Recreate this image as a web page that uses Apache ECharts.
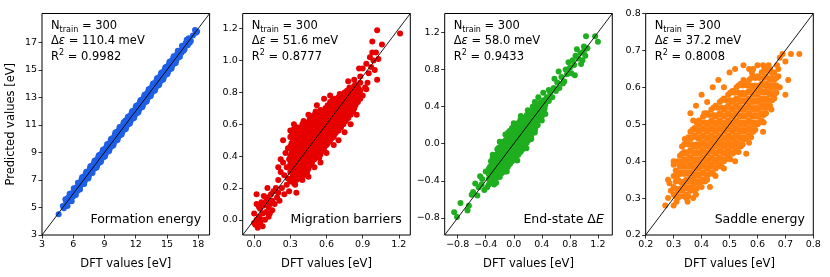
<!DOCTYPE html>
<html><head><meta charset="utf-8">
<script src="https://cdn.jsdelivr.net/npm/echarts@6/dist/echarts.min.js"></script>
<style>html,body{margin:0;padding:0;background:#fff}#c{width:830px;height:277px}</style>
</head><body><div id="c"></div>
<script>
// ---------- data ----------
const panelTitles = ['Formation energy', 'Migration barriers', 'End-state Δ{i|E}', 'Saddle energy'];
const nTrain = [300, 300, 300, 300];
const errMeV = ['110.4', '51.6', '58.0', '37.2'];
const r2Values = ['0.9982', '0.8777', '0.9433', '0.8008'];
const axisLimits = [[3, 19.1], [-0.095, 1.295], [-0.985, 1.405], [0.2, 0.8]];
const xTicks = [[3, 6, 9, 12, 15, 18], [0, 0.3, 0.6, 0.9, 1.2], [-0.8, -0.4, 0, 0.4, 0.8, 1.2], [0.2, 0.3, 0.4, 0.5, 0.6, 0.7, 0.8]];
const yTicks = [[3, 5, 7, 9, 11, 13, 15, 17], [0, 0.2, 0.4, 0.6, 0.8, 1.0, 1.2], [-0.8, -0.4, 0, 0.4, 0.8, 1.2], [0.2, 0.3, 0.4, 0.5, 0.6, 0.7, 0.8]];
const xLabel = 'DFT values [eV]';
const yLabel = 'Predicted values [eV]';

// Formation energy: [DFT, predicted]
const formationPoints = [[4.6,4.5],[5.0,5.1],[5.1,4.95],[5.3,5.45],[5.4,5.2],[5.5,5.7],[5.6,5.45],[5.7,5.85],[5.8,5.6],[5.9,6.05],[6.0,5.8],[6.1,6.3],[6.2,6.0],[6.3,6.45],[6.4,6.2],[6.5,6.75],[6.6,6.45],[6.7,6.6],[6.8,7.05],[6.9,6.75],[7.0,7.25],[7.1,6.9],[7.2,7.45],[7.3,7.1],[7.4,7.6],[7.5,7.25],[7.6,7.85],[7.7,7.5],[7.8,8.05],[7.9,7.75],[8.0,8.25],[8.1,7.85],[8.2,8.45],[8.3,8.05],[8.4,8.65],[8.5,8.25],[8.6,8.85],[8.7,8.45],[8.8,9.05],[8.9,8.65],[9.0,9.25],[9.1,8.85],[9.2,9.45],[9.3,9.05],[9.4,9.65],[9.5,9.25],[9.6,9.9],[9.7,9.45],[9.8,10.05],[9.9,9.65],[10.0,10.3],[10.1,9.85],[10.2,10.5],[10.3,10.05],[10.4,10.65],[10.5,10.25],[10.6,10.85],[10.7,10.45],[10.8,11.05],[10.9,10.65],[11.0,11.3],[11.1,10.85],[11.2,11.45],[11.3,11.05],[11.4,11.65],[11.5,11.25],[11.6,11.85],[11.7,11.45],[11.8,12.05],[11.9,11.65],[12.0,12.3],[12.1,11.85],[12.2,12.45],[12.3,12.05],[12.4,12.65],[12.5,12.25],[12.6,12.85],[12.7,12.45],[12.8,13.05],[12.9,12.65],[13.0,13.25],[13.1,12.85],[13.2,13.45],[13.3,13.05],[13.4,13.65],[13.5,13.25],[13.6,13.85],[13.7,13.45],[13.8,14.05],[13.9,13.65],[14.0,14.25],[14.1,13.85],[14.2,14.45],[14.3,14.05],[14.4,14.65],[14.5,14.25],[14.6,14.85],[14.7,14.45],[14.8,15.05],[14.9,14.65],[15.0,15.25],[15.1,14.85],[15.2,15.45],[15.3,15.05],[15.4,15.65],[15.5,15.3],[15.6,15.85],[15.7,15.45],[15.8,16.0],[15.9,15.7],[16.0,16.2],[16.1,15.9],[16.2,16.4],[16.4,16.25],[16.5,16.7],[16.6,16.4],[16.8,16.95],[17.0,16.8],[17.1,17.3],[17.3,17.1],[17.5,17.5],[17.7,17.9],[17.9,17.8],[17.8,17.7]];
const formationSpread = [[5.25,5.6],[5.45,5.1],[5.65,6.0],[5.85,5.45],[6.05,6.4],[6.25,5.9],[6.45,6.8],[6.65,6.3],[6.85,7.2],[7.05,6.7],[7.25,7.6],[7.45,7.1],[7.65,8.0],[7.85,7.5],[8.05,8.4],[8.25,7.9],[8.45,8.8],[8.65,8.3],[8.85,9.2],[9.05,8.7],[9.25,9.6],[9.45,9.1],[9.65,10.0],[9.85,9.5],[10.05,10.45],[10.25,9.9],[10.45,10.85],[10.65,10.3],[10.85,11.2],[11.05,10.7],[11.25,11.6],[11.45,11.1],[11.65,12.0],[11.85,11.5],[12.05,12.4],[12.25,11.9],[12.45,12.8],[12.65,12.3],[12.85,13.2],[13.05,12.7],[13.25,13.6],[13.45,13.1],[13.65,14.0],[13.85,13.5],[14.05,14.4],[14.25,13.9],[14.45,14.8],[14.65,14.3],[14.85,15.2],[15.05,14.7],[15.25,15.6],[15.45,15.1],[15.65,16.0],[15.85,15.5],[16.05,16.4],[16.25,15.95],[16.45,16.75],[16.7,16.5],[16.9,17.2],[17.2,17.0]];

// Migration barriers: dense core as [DFT, [predicted...]] and scattered points
const migrationCore = [
 [0.30,[0.24,0.30,0.35,0.40,0.46,0.52]],[0.32,[0.27,0.33,0.38,0.43,0.49,0.55]],[0.34,[0.22,0.29,0.34,0.40,0.45,0.50]],
 [0.36,[0.28,0.33,0.37,0.42,0.47,0.53,0.58]],[0.38,[0.26,0.31,0.36,0.41,0.46,0.51,0.56]],[0.40,[0.30,0.35,0.40,0.44,0.49,0.54,0.60]],
 [0.42,[0.32,0.37,0.42,0.47,0.52,0.57]],[0.44,[0.30,0.35,0.40,0.45,0.50,0.55,0.61]],[0.46,[0.34,0.39,0.43,0.48,0.53,0.58,0.63]],
 [0.48,[0.36,0.41,0.46,0.50,0.55,0.60]],[0.50,[0.38,0.43,0.48,0.52,0.57,0.62,0.66]],[0.52,[0.40,0.45,0.49,0.54,0.59,0.64]],
 [0.54,[0.39,0.44,0.48,0.53,0.57,0.62,0.67]],[0.56,[0.43,0.47,0.52,0.56,0.61,0.66]],[0.58,[0.45,0.50,0.54,0.58,0.63,0.68]],
 [0.60,[0.47,0.51,0.55,0.60,0.64,0.70]],[0.62,[0.49,0.53,0.57,0.62,0.66,0.71]],[0.64,[0.51,0.55,0.59,0.63,0.67,0.73]],
 [0.66,[0.52,0.57,0.61,0.65,0.69,0.74]],[0.68,[0.55,0.59,0.63,0.67,0.72]],[0.70,[0.56,0.60,0.64,0.68,0.73,0.77]],
 [0.72,[0.58,0.62,0.66,0.70,0.75]],[0.74,[0.60,0.64,0.68,0.72,0.77]],[0.76,[0.62,0.66,0.70,0.74,0.79]],
 [0.78,[0.64,0.69,0.73,0.77,0.81]],[0.80,[0.66,0.71,0.75,0.80]],[0.82,[0.68,0.73,0.77,0.82]],
 [0.84,[0.72,0.76,0.80,0.85]],[0.86,[0.74,0.79,0.83]],[0.88,[0.76,0.81,0.86]]];
const migrationCore2 = [
 [0.31,[0.25,0.32,0.37,0.42,0.48,0.53]],[0.33,[0.23,0.30,0.36,0.41,0.47,0.52,0.57]],[0.35,[0.25,0.31,0.36,0.40,0.44,0.49,0.55]],
 [0.37,[0.27,0.32,0.39,0.44,0.49,0.55]],[0.39,[0.29,0.34,0.38,0.43,0.48,0.53,0.58]],[0.41,[0.28,0.33,0.38,0.43,0.47,0.51,0.56,0.62]],
 [0.43,[0.33,0.39,0.44,0.49,0.54,0.59]],[0.45,[0.32,0.37,0.42,0.47,0.52,0.56,0.60]],[0.47,[0.35,0.40,0.45,0.50,0.55,0.61,0.65]],
 [0.49,[0.38,0.43,0.48,0.53,0.58,0.63]],[0.51,[0.40,0.45,0.50,0.55,0.60,0.64,0.68]],[0.53,[0.42,0.47,0.51,0.56,0.61,0.66]],
 [0.55,[0.41,0.46,0.50,0.55,0.59,0.64,0.69]],[0.57,[0.44,0.49,0.54,0.58,0.63,0.68]],[0.59,[0.47,0.52,0.56,0.61,0.65,0.70]],
 [0.61,[0.48,0.53,0.58,0.62,0.67,0.72]],[0.63,[0.50,0.55,0.60,0.64,0.69,0.74]],[0.65,[0.53,0.57,0.61,0.65,0.70,0.75]],
 [0.67,[0.54,0.59,0.63,0.67,0.71,0.76]],[0.69,[0.57,0.61,0.65,0.70,0.74]],[0.71,[0.58,0.62,0.66,0.71,0.75,0.79]],
 [0.73,[0.60,0.64,0.68,0.73,0.77]],[0.75,[0.62,0.66,0.70,0.75,0.80]],[0.77,[0.64,0.68,0.72,0.76,0.81]],
 [0.79,[0.66,0.71,0.75,0.79,0.83]],[0.81,[0.69,0.73,0.78,0.82]],[0.83,[0.70,0.75,0.79,0.84]],
 [0.85,[0.74,0.78,0.82]],[0.87,[0.77,0.82]]];
const migrationScatter = [[0.0,0.04],[0.01,-0.03],[0.02,0.1],[0.02,0.16],[0.03,-0.05],[0.04,0.02],[0.05,0.07],[0.05,-0.02],[0.06,0.11],[0.07,0.04],[0.07,-0.04],[0.08,0.09],[0.09,0.0],[0.1,0.12],[0.1,0.05],[0.11,0.14],[0.12,0.08],[0.12,0.02],[0.13,0.1],[0.14,0.16],[0.15,0.06],[0.15,0.12],[0.16,0.18],[0.17,0.1],[0.18,0.2],[0.19,0.14],[0.02,0.0],[0.0,-0.02],[0.04,0.08],[0.08,0.15],[0.13,0.04],[0.06,0.0],[0.11,0.2],[0.2,0.17],
 [0.2,0.25],[0.21,0.12],[0.22,0.3],[0.23,0.2],[0.24,0.36],[0.25,0.16],[0.25,0.28],[0.26,0.42],[0.27,0.22],[0.27,0.33],[0.28,0.26],[0.28,0.45],[0.29,0.18],[0.29,0.38],[0.2,0.33],[0.22,0.38],
 [0.24,0.5],[0.3,0.56],[0.33,0.6],[0.35,0.17],[0.4,0.25],[0.45,0.27],[0.5,0.33],[0.55,0.36],[0.45,0.66],[0.52,0.72],[0.58,0.76],[0.63,0.78],[0.6,0.42],[0.66,0.47],[0.7,0.5],[0.75,0.55],[0.8,0.6],[0.85,0.66],[0.9,0.78],[0.88,0.9],[0.83,0.88],[0.78,0.87],[0.92,0.83],[0.9,0.95],[0.93,0.98],[0.95,0.92],[0.96,1.02],[0.97,0.96],[0.98,1.05],[0.99,1.0],[1.0,0.94],[1.01,1.05],[1.02,0.88],[1.02,1.19],[0.98,1.12],[1.06,1.1],[1.03,1.01],[1.21,1.17],[0.94,0.86],[0.93,0.82],[0.87,0.95]];

// End-state ΔE
const endStateCore = [
 [-0.34,[-0.42,-0.36,-0.30,-0.25]],[-0.31,[-0.38,-0.33,-0.27,-0.21]],[-0.28,[-0.36,-0.30,-0.25,-0.19]],
 [-0.25,[-0.35,-0.29,-0.23,-0.17,-0.12]],[-0.22,[-0.31,-0.26,-0.20,-0.14,-0.09]],[-0.19,[-0.30,-0.24,-0.18,-0.12,-0.07]],
 [-0.16,[-0.27,-0.21,-0.15,-0.10,-0.04]],[-0.13,[-0.25,-0.19,-0.13,-0.07,-0.01]],[-0.10,[-0.22,-0.16,-0.10,-0.04,0.02]],
 [-0.07,[-0.20,-0.14,-0.08,-0.02,0.04,0.09]],[-0.04,[-0.16,-0.10,-0.04,0.02,0.07,0.12]],[-0.01,[-0.14,-0.08,-0.02,0.04,0.10,0.15]],
 [0.02,[-0.11,-0.05,0.01,0.06,0.12,0.18]],[0.05,[-0.08,-0.02,0.04,0.09,0.15]],[0.08,[-0.05,0.01,0.06,0.12,0.18,0.23]],
 [0.11,[-0.02,0.04,0.09,0.15,0.21]],[0.14,[0.00,0.06,0.12,0.18,0.24]],[0.17,[0.04,0.10,0.15,0.21,0.27]],
 [0.20,[0.07,0.13,0.19,0.25,0.30]],[0.23,[0.11,0.16,0.22,0.28]],[0.26,[0.14,0.20,0.26,0.32]],
 [0.29,[0.17,0.23,0.29,0.35]],[0.32,[0.22,0.27,0.33,0.38]],[0.35,[0.26,0.31,0.37,0.42]],
 [0.38,[0.30,0.35,0.41]],[0.41,[0.34,0.40,0.45]],[0.44,[0.38,0.44]]];
const endStateCore2 = [
 [-0.355,[-0.44,-0.38,-0.33,-0.27]],[-0.325,[-0.41,-0.35,-0.30,-0.24,-0.19]],[-0.295,[-0.40,-0.34,-0.28,-0.22,-0.16]],
 [-0.265,[-0.38,-0.32,-0.26,-0.20,-0.14]],[-0.235,[-0.36,-0.30,-0.24,-0.18,-0.12,-0.06]],[-0.205,[-0.34,-0.28,-0.22,-0.16,-0.10,-0.04]],
 [-0.175,[-0.32,-0.26,-0.20,-0.14,-0.08,-0.02]],[-0.145,[-0.30,-0.23,-0.17,-0.11,-0.05,0.01]],[-0.115,[-0.27,-0.21,-0.15,-0.09,-0.03,0.04]],
 [-0.085,[-0.25,-0.19,-0.13,-0.06,0.00,0.06]],[-0.055,[-0.22,-0.16,-0.10,-0.04,0.02,0.08,0.14]],[-0.025,[-0.19,-0.13,-0.07,-0.01,0.05,0.11,0.17]],
 [0.005,[-0.17,-0.11,-0.05,0.01,0.07,0.13,0.19]],[0.035,[-0.14,-0.08,-0.02,0.04,0.10,0.16,0.21]],[0.065,[-0.12,-0.06,0.00,0.06,0.12,0.18]],
 [0.095,[-0.09,-0.03,0.03,0.09,0.15,0.21,0.26]],[0.125,[-0.06,0.00,0.06,0.12,0.18,0.24]],[0.155,[-0.03,0.03,0.09,0.15,0.21,0.27]],
 [0.185,[0.01,0.07,0.13,0.19,0.25,0.31]],[0.215,[0.04,0.10,0.16,0.22,0.28,0.33]],[0.245,[0.08,0.14,0.20,0.26,0.31]],
 [0.275,[0.12,0.18,0.24,0.30,0.36]],[0.305,[0.16,0.22,0.28,0.34,0.40]],[0.335,[0.21,0.27,0.33,0.39]],
 [0.365,[0.26,0.32,0.38,0.44]],[0.395,[0.30,0.36,0.42]],[0.425,[0.35,0.41,0.47]]];
const endStateScatter = [[-0.85,-0.74],[-0.81,-0.79],[-0.76,-0.64],[-0.66,-0.72],[-0.64,-0.67],[-0.6,-0.55],
 [-0.3,-0.15],[-0.2,0.02],[-0.12,0.1],[0.0,0.22],[0.1,0.3],[0.3,0.45],[0.35,0.5],[-0.25,-0.42],[-0.1,-0.3],[0.05,-0.18],[0.18,-0.05],[0.25,0.05],[0.3,0.12],[0.4,0.25],[0.45,0.32],
 [-0.4,-0.3],[-0.38,-0.47],[-0.45,-0.38],[-0.5,-0.47],[-0.55,-0.43],[-0.46,-0.44],[-0.52,-0.56],[-0.58,-0.52],[-0.42,-0.5],[-0.48,-0.35],
 [-0.3,-0.12],[-0.22,-0.05],[-0.15,0.02],[-0.08,0.12],[0.0,0.18],[0.06,0.22],[0.12,0.28],[0.2,0.36],[0.27,0.4],[-0.28,-0.44],[-0.2,-0.36],[-0.12,-0.3],[-0.05,-0.2],[0.02,-0.14],[0.1,-0.08],[0.16,-0.02],[0.22,0.06],[0.28,0.12],[0.34,0.2],[0.4,0.3],
 [0.45,0.42],[0.47,0.5],[0.5,0.46],[0.52,0.55],[0.55,0.5],[0.57,0.6],[0.6,0.57],[0.62,0.66],[0.64,0.78],[0.65,0.6],[0.68,0.72],[0.7,0.65],[0.72,0.67],[0.74,0.8],[0.76,0.75],[0.78,0.88],[0.8,0.82],[0.82,0.76],[0.84,0.9],[0.86,0.85],[0.87,0.74],[0.58,0.7],[0.5,0.58],[0.42,0.55],
 [0.88,0.95],[0.92,0.92],[0.95,0.98],[0.98,0.9],[1.0,1.0],[1.02,0.95],[1.03,1.16],[1.0,1.05],[1.16,1.16],[1.2,1.1],[0.9,1.02],[0.96,0.86],[1.05,1.03]];

// Saddle energy
const saddleCore = [
 [0.300,[0.31,0.33,0.36,0.39]],[0.315,[0.30,0.32,0.35,0.37,0.40]],[0.330,[0.32,0.34,0.37,0.39,0.42,0.44]],
 [0.345,[0.31,0.33,0.35,0.37,0.40,0.42,0.45]],[0.360,[0.33,0.35,0.37,0.39,0.41,0.43,0.46,0.48]],
 [0.375,[0.32,0.34,0.36,0.38,0.40,0.42,0.44,0.47,0.49]],[0.390,[0.34,0.36,0.38,0.40,0.42,0.44,0.46,0.48,0.51]],
 [0.405,[0.35,0.37,0.39,0.41,0.43,0.45,0.47,0.49,0.52]],[0.420,[0.36,0.38,0.40,0.42,0.44,0.46,0.48,0.50,0.53]],
 [0.435,[0.37,0.39,0.41,0.43,0.45,0.47,0.49,0.51,0.54]],[0.450,[0.38,0.40,0.42,0.44,0.46,0.48,0.50,0.52,0.55]],
 [0.465,[0.39,0.41,0.43,0.45,0.47,0.49,0.51,0.53,0.56]],[0.480,[0.40,0.42,0.44,0.46,0.48,0.50,0.52,0.54,0.57]],
 [0.495,[0.41,0.43,0.45,0.47,0.49,0.51,0.53,0.55,0.58]],[0.510,[0.42,0.44,0.46,0.48,0.50,0.52,0.54,0.56,0.59]],
 [0.525,[0.43,0.45,0.47,0.49,0.51,0.53,0.55,0.57,0.60]],[0.540,[0.44,0.46,0.48,0.50,0.52,0.54,0.56,0.58,0.61]],
 [0.555,[0.46,0.48,0.50,0.52,0.54,0.56,0.58,0.61]],[0.570,[0.47,0.49,0.51,0.53,0.55,0.57,0.59,0.62]],
 [0.585,[0.48,0.50,0.52,0.54,0.56,0.58,0.60,0.63]],[0.600,[0.50,0.52,0.54,0.56,0.58,0.60,0.63]],
 [0.615,[0.51,0.53,0.55,0.57,0.59,0.61,0.64]],[0.630,[0.53,0.55,0.57,0.59,0.61,0.63,0.65]],
 [0.645,[0.55,0.58,0.60,0.62,0.65]],[0.660,[0.57,0.60,0.62,0.64]],[0.675,[0.60,0.63,0.65]]];
const saddleCore2 = [
 [0.3075,[0.305,0.325,0.345,0.375]],[0.3225,[0.305,0.325,0.345,0.365,0.385,0.415]],
 [0.3375,[0.305,0.325,0.345,0.365,0.385,0.405,0.425,0.445]],[0.3525,[0.305,0.325,0.345,0.365,0.385,0.405,0.425,0.445,0.465]],
 [0.3675,[0.325,0.345,0.365,0.385,0.405,0.425,0.445,0.465,0.485]],[0.3825,[0.325,0.345,0.365,0.385,0.405,0.425,0.445,0.465,0.485,0.505]],
 [0.3975,[0.345,0.365,0.385,0.405,0.425,0.445,0.465,0.485,0.505]],[0.4125,[0.345,0.365,0.385,0.405,0.425,0.445,0.465,0.485,0.505,0.525]],
 [0.4275,[0.365,0.385,0.405,0.425,0.445,0.465,0.485,0.505,0.525]],[0.4425,[0.365,0.385,0.405,0.425,0.445,0.465,0.485,0.505,0.525,0.545]],
 [0.4575,[0.385,0.405,0.425,0.445,0.465,0.485,0.505,0.525,0.545]],[0.4725,[0.385,0.405,0.425,0.445,0.465,0.485,0.505,0.525,0.545,0.565]],
 [0.4875,[0.405,0.425,0.445,0.465,0.485,0.505,0.525,0.545,0.565]],[0.5025,[0.405,0.425,0.445,0.465,0.485,0.505,0.525,0.545,0.565,0.585]],
 [0.5175,[0.425,0.445,0.465,0.485,0.505,0.525,0.545,0.565,0.585]],[0.5325,[0.425,0.445,0.465,0.485,0.505,0.525,0.545,0.565,0.585,0.605]],
 [0.5475,[0.445,0.465,0.485,0.505,0.525,0.545,0.565,0.585,0.605]],[0.5625,[0.465,0.485,0.505,0.525,0.545,0.565,0.585,0.605]],
 [0.5775,[0.465,0.485,0.505,0.525,0.545,0.565,0.585,0.605,0.625]],[0.5925,[0.485,0.505,0.525,0.545,0.565,0.585,0.605,0.625]],
 [0.6075,[0.505,0.525,0.545,0.565,0.585,0.605,0.625]],[0.6225,[0.505,0.525,0.545,0.565,0.585,0.605,0.625,0.645]],
 [0.6375,[0.545,0.565,0.585,0.605,0.625,0.645]],[0.6525,[0.565,0.585,0.605,0.625]],[0.6675,[0.585,0.605,0.625]]];
const saddleScatter = [[0.27,0.28],[0.28,0.3],[0.28,0.35],[0.285,0.34],[0.3,0.28],[0.31,0.29],[0.29,0.32],[0.345,0.3],[0.35,0.29],[0.33,0.4],[0.32,0.39],[0.36,0.53],[0.37,0.51],[0.38,0.55],[0.4,0.58],[0.42,0.56],[0.44,0.6],[0.46,0.62],[0.48,0.6],[0.5,0.64],[0.52,0.65],[0.55,0.66],[0.57,0.65],[0.58,0.64],[0.6,0.66],[0.62,0.66],[0.64,0.66],[0.65,0.64],[0.67,0.66],[0.68,0.68],[0.69,0.69],[0.7,0.67],[0.72,0.69],[0.75,0.69],[0.71,0.62],[0.68,0.6],[0.66,0.58],[0.65,0.54],[0.7,0.58],[0.63,0.53],[0.6,0.5],[0.58,0.48],[0.56,0.42],[0.55,0.46],[0.52,0.4],[0.5,0.42],[0.48,0.38],[0.45,0.36],[0.43,0.33],[0.42,0.35],[0.4,0.33],[0.38,0.31],[0.36,0.32],[0.37,0.3],[0.57,0.45],[0.62,0.48],[0.39,0.5],[0.41,0.53],[0.34,0.46],[0.31,0.36],[0.3,0.4],[0.585,0.65],[0.55,0.62]];

const colors = ['#1f5fe6', '#e60000', '#1fae1f', '#ff7f0e'];

// ---------- build ----------
function expand(core) { const out = []; core.forEach(([x, ys]) => ys.forEach(y => out.push([x, y]))); return out; }
const panelPoints = [
  formationPoints.concat(formationSpread),
  expand(migrationCore).concat(expand(migrationCore2), migrationScatter),
  expand(endStateCore).concat(expand(endStateCore2), endStateScatter),
  expand(saddleCore).concat(expand(saddleCore2), saddleScatter)];

const FONT = 'DejaVu Sans';
const gridLefts = [42, 242.7, 444.7, 645.7];
const gridW = 167.6, gridTop = 13.5, gridH = 221.5;

function fmt(i) {
  return v => {
    if (i === 0) return String(Math.round(v));
    const s = Math.abs(v).toFixed(1);
    return (v < -1e-9 ? '\u2212' : '') + s;
  };
}

const grid = [], xAxis = [], yAxis = [], series = [], graphic = [];
for (let i = 0; i < 4; i++) {
  grid.push({left: gridLefts[i], top: gridTop, width: gridW, height: gridH, show: true, borderColor: '#000', borderWidth: 1, backgroundColor: 'transparent', containLabel: false});
  const lim = axisLimits[i];
  const common = (ticks) => ({
    min: lim[0], max: lim[1], gridIndex: i,
    axisLine: {show: false, onZero: false},
    splitLine: {show: false},
    axisTick: {show: true, length: 3.5, inside: false, customValues: ticks, lineStyle: {color: '#000', width: 0.8}},
    axisLabel: {show: true, customValues: ticks, formatter: fmt(i), fontFamily: FONT, fontSize: 9.5, color: '#000', margin: 5}
  });
  xAxis.push(Object.assign(common(xTicks[i]), {type: 'value', position: 'bottom',
    name: xLabel, nameLocation: 'middle', nameGap: 23.5, nameTextStyle: {fontFamily: FONT, fontSize: 11.5, color: '#000'}}));
  const ya = Object.assign(common(yTicks[i]), {type: 'value', position: 'left'});
  if (i === 0) Object.assign(ya, {name: yLabel, nameLocation: 'middle', nameGap: 25, nameRotate: 90, nameTextStyle: {fontFamily: FONT, fontSize: 11.5, color: '#000'}});
  yAxis.push(ya);
  series.push({type: 'scatter', xAxisIndex: i, yAxisIndex: i, data: panelPoints[i], symbolSize: 6, clip: true,
    itemStyle: {color: colors[i], borderWidth: 0, opacity: 1}, animation: false, z: 2, large: false});
  series.push({type: 'line', xAxisIndex: i, yAxisIndex: i, data: [[lim[0], lim[0]], [lim[1], lim[1]]], symbol: 'none',
    lineStyle: {color: '#000', width: 0.9}, animation: false, z: 3, silent: true});
  graphic.push({type: 'text', x: gridLefts[i] + 9, y: gridTop + 4.5, z: 10,
    style: {text: '{a|N}{s|train}{a| = ' + nTrain[i] + '}\n{a|Δ}{e|ε}{a| = ' + errMeV[i] + ' meV}\n{a|R}{p|2}{a| = ' + r2Values[i] + '}',
      fill: '#000', fontFamily: FONT, fontSize: 11.5,
      rich: {a: {fontFamily: FONT, fontSize: 11.5, lineHeight: 15.5, fill: '#000'},
             e: {fontFamily: FONT, fontSize: 11.5, fontStyle: 'italic', lineHeight: 15.5, fill: '#000'},
             s: {fontFamily: FONT, fontSize: 8, lineHeight: 15.5, verticalAlign: 'bottom', fill: '#000'},
             p: {fontFamily: FONT, fontSize: 8, lineHeight: 15.5, verticalAlign: 'top', fill: '#000'}}}});
  graphic.push({type: 'text', x: gridLefts[i] + gridW - 8.5, y: 220, z: 10,
    style: {text: panelTitles[i], align: 'right', verticalAlign: 'middle', fill: '#000', fontFamily: FONT, fontSize: 12.5,
      rich: {i: {fontFamily: FONT, fontSize: 12.5, fontStyle: 'italic', fill: '#000'}}}});
}

const chart = echarts.init(document.getElementById('c'), null, {renderer: 'canvas'});
chart.setOption({animation: false, backgroundColor: '#fff', grid, xAxis, yAxis, series, graphic});
</script>
</body></html>
